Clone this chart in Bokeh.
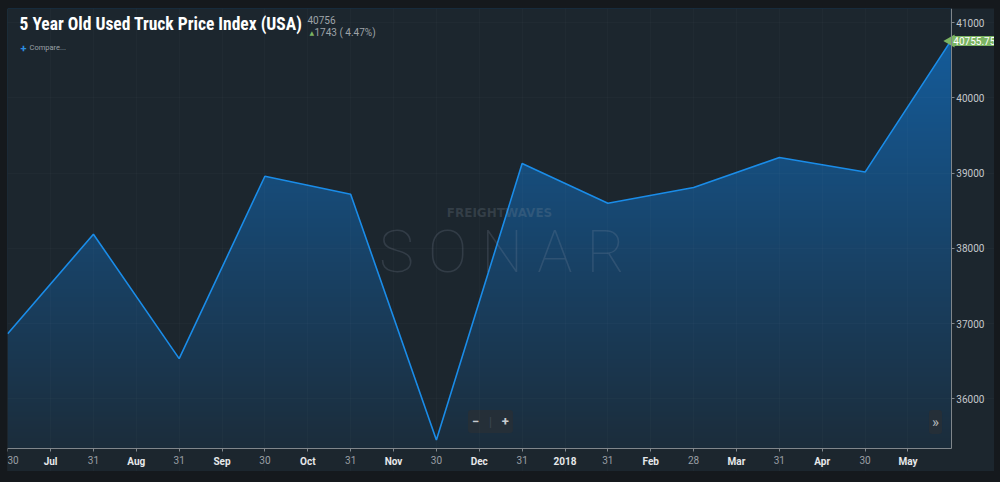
import math
import numpy as np
from bokeh.plotting import figure
from bokeh.models import FixedTicker, Label, LinearAxis, BasicTickFormatter
from bokeh.embed import file_html
from bokeh.resources import INLINE

# ---------------- data ----------------
dates = ["2017-06-30", "2017-07-31", "2017-08-31", "2017-09-30", "2017-10-31", "2017-11-30",
         "2017-12-31", "2018-01-31", "2018-02-28", "2018-03-31", "2018-04-30", "2018-05-31"]
prices = [36864, 38187, 36535, 38957, 38718, 35453, 39126, 38599, 38807, 39206, 39013, 40755.75]
day_labels = ["30", "31", "31", "30", "31", "30", "31", "31", "28", "31", "30"]
month_labels = ["Jul", "Aug", "Sep", "Oct", "Nov", "Dec", "2018", "Feb", "Mar", "Apr", "May"]
y_ticks = [36000, 37000, 38000, 39000, 40000, 41000]
title_text = "5 Year Old Used Truck Price Index (USA)"

# ---------------- styles ----------------
BG = "#1c262e"
PAGE_BG = "#15191d"
AREA_TOP = (20, 91, 153)
LINE = "#1a8ce8"
GREEN = "#7bb462"
AXIS = "#80868b"
NB = "\u00a0"

W, H = 987, 463
xs = np.arange(len(prices), dtype=float)
X0, X1 = -0.002, 11.509          # frame covers the whole figure
X_AX = 11.005                    # position of the right-hand value axis
Y0, Y1 = 35035, 41186
Y_AX = 35344                     # position of the time axis

p = figure(width=W, height=H, x_range=(X0, X1), y_range=(Y0, Y1),
           y_axis_location="right", output_backend="svg", toolbar_location=None,
           min_border=0, min_border_left=0, min_border_right=0,
           min_border_top=0, min_border_bottom=0)
p.background_fill_color = BG
p.border_fill_color = BG
p.outline_line_color = None

# grid (very faint)
for g in (p.xgrid[0], p.ygrid[0]):
    g.grid_line_color = "#ffffff"
    g.grid_line_alpha = 0.02
    g.level = "overlay"

# vertical gradient image behind the area, masked above the line
rows = 600
row_vals = Y_AX + (np.arange(rows) + 0.5) * (Y1 - Y_AX) / rows
ref_top = prices[-1]
a = 0.88 * np.clip((ref_top - row_vals) / (ref_top - Y_AX), 0, 1)
bg_rgb = np.array([0x1c, 0x26, 0x2e], dtype=float)
top_rgb = np.array(AREA_TOP, dtype=float)
cols = top_rgb[None, :] * (1 - a[:, None]) + bg_rgb[None, :] * a[:, None]
img = np.zeros((rows, 2, 4), dtype=np.uint8)
img[:, :, :3] = np.round(cols)[:, None, :].astype(np.uint8)
img[:, :, 3] = 255
p.image_rgba(image=[img.view(np.uint32).reshape(rows, 2)], x=xs[0], y=Y_AX,
             dw=xs[-1] - xs[0], dh=Y1 - Y_AX)
p.varea(x=xs, y1=prices, y2=Y1, fill_color=BG)

p.line(xs, prices, line_color=LINE, line_width=1.6)
p.scatter([xs[-1]], [prices[-1]], marker="triangle", size=13, angle=math.pi / 2,
          fill_color=GREEN, line_color=None)

# time axis: day labels (grey) with all tick marks
tick_pos, overrides = [], {}
for i, d in enumerate(day_labels):
    tick_pos += [float(i), i + 0.5]
    overrides[float(i)] = d
    overrides[i + 0.5] = ""
xa = p.xaxis[0]
xa.fixed_location = Y_AX
xa.bounds = (X0, X_AX)
xa.ticker = FixedTicker(ticks=tick_pos)
xa.major_label_overrides = overrides
xa.axis_line_color = AXIS
xa.major_tick_line_color = AXIS
xa.major_tick_in = 0
xa.major_tick_out = 3
xa.minor_tick_line_color = None
xa.major_label_standoff = 5
xa.major_label_text_color = "#9a9fa5"
xa.major_label_text_font = "Roboto"
xa.major_label_text_font_size = "10px"

# time axis: month labels (white, bold)
month_pos = [i + 0.5 for i in range(len(month_labels))]
ma = LinearAxis(fixed_location=Y_AX, bounds=(X0, X_AX),
                ticker=FixedTicker(ticks=month_pos),
                major_label_overrides={pos: m for pos, m in zip(month_pos, month_labels)})
ma.axis_line_color = None
ma.major_tick_line_color = AXIS
ma.major_tick_line_alpha = 0
ma.major_tick_in = 0
ma.major_tick_out = 3
ma.minor_tick_line_color = None
ma.major_label_standoff = 5
ma.major_label_text_color = "#e6e8ea"
ma.major_label_text_font = "Roboto"
ma.major_label_text_font_style = "bold"
ma.major_label_text_font_size = "10px"
p.add_layout(ma, "below")

# value axis (right)
ya = p.yaxis[0]
ya.fixed_location = X_AX
ya.bounds = (Y_AX, Y1)
ya.ticker = FixedTicker(ticks=y_ticks)
ya.formatter = BasicTickFormatter(use_scientific=False)
ya.axis_line_color = AXIS
ya.major_tick_line_color = AXIS
ya.major_tick_in = 0
ya.major_tick_out = 3
ya.minor_tick_line_color = None
ya.major_label_standoff = 2
ya.major_label_text_color = "#c4c8cc"
ya.major_label_text_font = "Roboto"
ya.major_label_text_font_size = "10px"

# header texts (screen units: from the figure's bottom-left)
def lab(x, y, text, **kw):
    opts = dict(x_units="screen", y_units="screen", text_baseline="middle",
                text_font="Roboto", text_font_size="10px", text_color="#9ea3a8")
    opts.update(kw)
    p.add_layout(Label(x=x, y=y, text=text, **opts))

chg = prices[-1] - prices[-2]
lab(12, 447.5, title_text, text_font="Liberation Sans Narrow, Roboto Condensed, Roboto",
    text_font_size="17.5px", text_font_style="bold", text_color="#ffffff")
lab(300, 452, f"{prices[-1]:.0f}")
lab(302, 439.5, "▲", text_font="DejaVu Sans", text_font_size="6px", text_color=GREEN)
lab(307, 439.5, f"{chg:.0f} ( {chg / prices[-2] * 100:.2f}%)")
lab(13, 424, "+", text_font_size="11px", text_font_style="bold", text_color="#2d8ee0")
lab(22, 424, "Compare...", text_font_size="7.5px", text_color="#9aa0a6")

# watermark
lab(492, 259, "FREIGHTWAVES", text_font="DejaVu Sans", text_font_size="12px",
    text_font_style="bold", text_color="#8a96a2", text_alpha=0.22, text_align="center")
lab(494.5, 220, "S O N A R", text_font="Roboto Thin, Lato Hairline, Lato Light, Lato",
    text_font_size="59px", text_color="#8a98a8", text_alpha=0.2, text_align="center")

# controls
lab(483, 50, "−" + NB * 7 + "+", text_font_size="13px", text_font_style="bold",
    text_color="#c8ccd0", text_align="center", background_fill_color="#252f38",
    padding=4, border_radius=3)
lab(483, 50, "|", text_font_size="12px", text_color="#3c4650", text_align="center")
lab(928, 49.5, "»", text_font_size="15px", text_color="#b0b4b8", text_align="center",
    background_fill_color="#252f38", padding=3, border_radius=3)

# last value tag at the value axis
p.add_layout(Label(x=X_AX, y=prices[-1], text=f"{prices[-1]:.2f}", x_offset=1,
                   text_font="Roboto", text_font_size="10px", text_color="#ffffff",
                   text_align="left", text_baseline="middle",
                   background_fill_color=GREEN, padding=1))

html = file_html(p, INLINE)
css = ("<style>html, body { background-color: %s !important; } "
       "body { padding: 8px 0 0 7px !important; }</style>" % PAGE_BG)
html = html.replace("</head>", css + "</head>", 1)
open("out.html", "w").write(html)
